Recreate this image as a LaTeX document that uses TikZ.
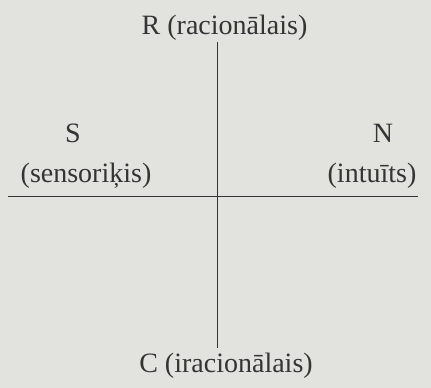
\documentclass[tikz,border=0pt]{standalone}
\usepackage{fontspec}
\setmainfont{Liberation Serif}
\usepackage{tikz}
\usetikzlibrary{positioning}

\definecolor{paper}{RGB}{226,226,223}
\definecolor{ink}{RGB}{52,52,52}

\begin{document}
\begin{tikzpicture}[x=1pt, y=1pt,
  lbl/.style={inner sep=0pt, anchor=base, text=ink, font=\fontsize{28}{32}\selectfont},
  axis/.style={draw=ink, line width=0.9pt}
]

% page background
\fill[paper] (0,0) rectangle (431,388);
\useasboundingbox (0,0) rectangle (431,388);

% labels
\node[lbl] (rac)  at (224.5, 353) {R (racionālais)};
\node[lbl] (irac) at (226,   15)  {C (iracionālais)};
\node[lbl] (s)    at (73,   245)  {S};
\node[lbl] (sens) at (86,   205)  {(sensoriķis)};
\node[lbl] (n)    at (383,  245)  {N};
\node[lbl] (int)  at (372,  205)  {(intuīts)};

% axis ends
\coordinate (top)    at (217, 346);
\coordinate (bottom) at (217,  40);
\coordinate (left)   at (8,   192);
\coordinate (right)  at (418, 192);

% cross
\draw[axis] (top) -- (bottom);
\draw[axis] (left) -- (right);

\end{tikzpicture}
\end{document}
